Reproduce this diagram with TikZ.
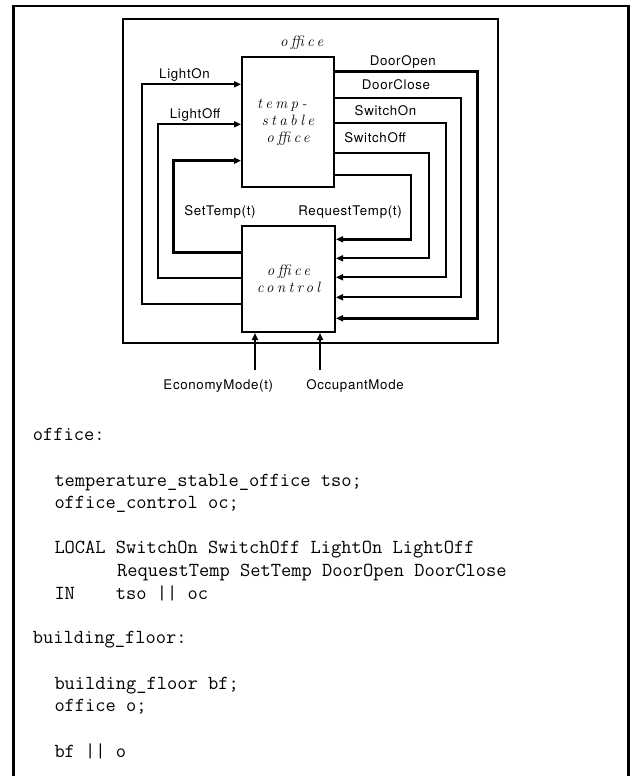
\documentclass[tikz,border=0pt]{standalone}
\usepackage{fontspec}
\newfontfamily\labfont[LetterSpace=5]{TeX Gyre Heros}
\newfontfamily\itfont[LetterSpace=22]{Latin Modern Roman}
\usetikzlibrary{arrows.meta}
\begin{document}
\begin{tikzpicture}[x=1pt,y=-1pt,
  wire/.style={line width=1.9pt},
  thickwire/.style={line width=2.9pt},
  arr/.style={-{Triangle[length=7pt,width=6pt]}},
  blockbox/.style={draw,line width=2pt,inner sep=0pt,align=center,
    font=\itfont\itshape\fontsize{15}{17}\selectfont},
  itext/.style={inner sep=0pt,anchor=base,
    font=\itfont\itshape\fontsize{15}{17}\selectfont},
  labtext/.style={inner sep=0pt,anchor=base,font=\labfont\fontsize{13.3}{15}\selectfont},
  codetext/.style={inner sep=0pt,anchor=base west,font=\ttfamily\fontsize{19.9}{23}\selectfont}
]
\useasboundingbox (0,0) rectangle (634,776);
% outer frame (open at the bottom)
\draw[line width=2.7pt] (13.7,776) -- (13.7,6) -- (628.3,6) -- (628.3,776);
% office frame
\draw[line width=2pt] (123.3,19) rectangle (498,343.3);

% blocks
\node[blockbox,minimum width=92pt,minimum height=130pt] (tso) at (288,122)
  {temp-\hspace*{12pt}\\stable\\office};
\node[blockbox,minimum width=93pt,minimum height=106pt] (oc) at (288.5,279)
  {office\\control};

\node[itext] (officelab) at (301.7,46.5) {office};

% left wires (into tso)
\draw[wire,arr] (oc.west |- 0,304) -| (142.3,84.3) -- (tso.west |- 0,84.3);
\draw[wire,arr] (oc.west |- 0,277.7) -| (157.7,124.3) -- (tso.west |- 0,124.3);
\draw[thickwire,arr] (oc.west |- 0,252.7) -| (173.3,160.7) -- (tso.west |- 0,160.7);

% right wires (into oc)
\draw[thickwire,arr] (tso.east |- 0,71.7) -| (477.7,318.3) -- (oc.east |- 0,318.3);
\draw[wire,arr] (tso.east |- 0,98.3) -| (461,297.3) -- (oc.east |- 0,297.3);
\draw[wire,arr] (tso.east |- 0,122.7) -| (445.7,277.3) -- (oc.east |- 0,277.3);
\draw[wire,arr] (tso.east |- 0,152.7) -| (429,258.3) -- (oc.east |- 0,258.3);
\draw[thickwire,arr] (tso.east |- 0,175) -| (411,239.3) -- (oc.east |- 0,239.3);

% external inputs
\coordinate (econin) at (255,370);
\coordinate (occin) at (320,370);
\draw[wire,arr] (econin) -- (oc.south -| econin);
\draw[thickwire,arr] (occin) -- (oc.south -| occin);

% wire labels
\node[labtext] (lon) at (184.5,78.3) {LightOn};
\node[labtext] (loff) at (195,118.3) {LightOff};
\node[labtext] (dopen) at (402.8,66) {DoorOpen};
\node[labtext] (dclose) at (396,89.3) {DoorClose};
\node[labtext] (son) at (385.5,115) {SwitchOn};
\node[labtext] (soff) at (375,142.7) {SwitchOff};
\node[labtext] (settemp) at (220,215) {SetTemp(t)};
\node[labtext] (reqtemp) at (350,215) {RequestTemp(t)};
\node[labtext] (econ) at (218.3,389) {EconomyMode(t)};
\node[labtext] (occ) at (355,389) {OccupantMode};

% code
\node[codetext] (c1) at (32.7,440) {office:};
\node[codetext] (c2) at (54.3,486) {temperature\_stable\_office tso;};
\node[codetext] (c3) at (54.3,508.7) {office\_control oc;};
\node[codetext] (c4) at (54.3,553.3) {LOCAL SwitchOn SwitchOff LightOn LightOff};
\node[codetext] (c5) at (117,576.7) {RequestTemp SetTemp DoorOpen DoorClose};
\node[codetext] (c6) at (54.3,599.3) {IN~~~~tso || oc};
\node[codetext] (c7) at (32.7,643.3) {building\_floor:};
\node[codetext] (c8) at (54.3,689.3) {building\_floor bf;};
\node[codetext] (c9) at (54.3,711.7) {office o;};
\node[codetext] (c10) at (54.3,757.3) {bf || o};
\end{tikzpicture}
\end{document}
